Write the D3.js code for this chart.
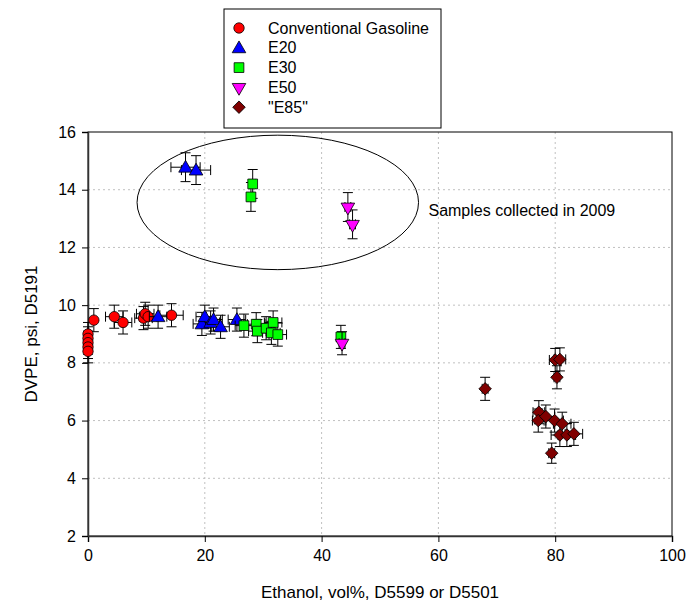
<!DOCTYPE html>
<html>
<head>
<meta charset="utf-8">
<script src="https://cdn.jsdelivr.net/npm/d3@7"></script>
<style>
  body { margin: 0; background: #fff; }
  svg text { font-family: Arial, "Liberation Sans", sans-serif; fill: #000; }
</style>
</head>
<body>
<script>
// data: [ethanol vol%, DVPE psi, x error, y error]
var gasoline = [
  [0, 9.0, 0, 0.4], [0, 8.85, 0, 0.4], [0, 8.7, 0, 0.4], [0, 8.55, 0, 0.4], [0, 8.4, 0, 0.4],
  [1.0, 9.48, 0, 0.4], [4.5, 9.6, 1.5, 0.4], [6.0, 9.4, 1.5, 0.4], [9.5, 9.55, 1.5, 0.4],
  [9.8, 9.7, 1.5, 0.4], [10.3, 9.6, 1.5, 0.4], [14.3, 9.65, 2, 0.4]
];
var e20 = [
  [16.7, 14.78, 2.5, 0.5], [18.5, 14.68, 2.5, 0.5],
  [12.0, 9.6, 1.5, 0.4], [19.5, 9.35, 1.5, 0.4], [20.0, 9.6, 1.5, 0.4], [21.0, 9.4, 1.5, 0.4],
  [21.5, 9.5, 1.5, 0.4], [22.7, 9.25, 1.5, 0.4], [25.5, 9.5, 1.5, 0.4]
];
var e30 = [
  [28.2, 14.2, 0.5, 0.5], [27.9, 13.75, 0.5, 0.5],
  [26.7, 9.29, 1.5, 0.4], [28.8, 9.34, 1.5, 0.4], [29.0, 9.1, 1.5, 0.4], [30.5, 9.2, 1.5, 0.4],
  [31.7, 9.4, 1.5, 0.4], [31.4, 9.04, 1.5, 0.4], [32.5, 8.98, 1.5, 0.4], [43.3, 8.9, 0.5, 0.4]
];
var e50 = [
  [44.5, 13.4, 0.5, 0.5], [45.3, 12.8, 0.5, 0.5], [43.5, 8.68, 0.5, 0.4]
];
var e85 = [
  [68.0, 7.1, 0.5, 0.4], [80.0, 8.1, 1.0, 0.4], [80.8, 8.12, 1.0, 0.4], [80.3, 7.5, 0.5, 0.4],
  [77.2, 6.29, 1.0, 0.4], [77.1, 6.0, 1.0, 0.4], [78.4, 6.14, 1.5, 0.4], [79.9, 6.0, 1.5, 0.4],
  [81.2, 5.89, 1.5, 0.4], [80.8, 5.5, 1.5, 0.4], [82.0, 5.5, 1.5, 0.4], [83.2, 5.54, 1.5, 0.4],
  [79.4, 4.87, 0.5, 0.35]
];
var seriesNames = ["Conventional Gasoline", "E20", "E30", "E50", "\"E85\""];
var seriesColors = ["#ff0000", "#0000ff", "#00ff00", "#ff00ff", "#800000"];
var xTicks = [0, 20, 40, 60, 80, 100];
var yTicks = [2, 4, 6, 8, 10, 12, 14, 16];
var noteText = "Samples collected in 2009";

var width = 690, height = 604;
var margin = {left: 88, right: 18, top: 132, bottom: 68};
var chartWidth = width - margin.left - margin.right;
var chartHeight = height - margin.top - margin.bottom;

var svg = d3.select("body").append("svg")
  .attr("width", width).attr("height", height);

var xScale = d3.scaleLinear().domain([0, 100]).range([0, chartWidth]);
var yScale = d3.scaleLinear().domain([2, 16]).range([chartHeight, 0]);

var chart = svg.append("g").attr("transform", "translate(" + margin.left + "," + margin.top + ")");

// dotted grid
chart.append("g").selectAll("line").data(xTicks.slice(1, -1)).enter().append("line")
  .attr("x1", d => xScale(d)).attr("x2", d => xScale(d))
  .attr("y1", 0).attr("y2", chartHeight)
  .attr("stroke", "#c0c0c0").attr("stroke-dasharray", "2,3");
chart.append("g").selectAll("line").data(yTicks.slice(1, -1)).enter().append("line")
  .attr("y1", d => yScale(d)).attr("y2", d => yScale(d))
  .attr("x1", 0).attr("x2", chartWidth)
  .attr("stroke", "#c0c0c0").attr("stroke-dasharray", "2,3");

// frame
chart.append("rect").attr("width", chartWidth).attr("height", chartHeight)
  .attr("fill", "none").attr("stroke", "#000");

// axes
var xAxis = d3.axisBottom(xScale).tickValues(xTicks).tickSize(6).tickPadding(8);
var yAxis = d3.axisLeft(yScale).tickValues(yTicks).tickSize(6).tickPadding(6);
var gx = chart.append("g").attr("transform", "translate(0," + chartHeight + ")").call(xAxis);
var gy = chart.append("g").call(yAxis);
[gx, gy].forEach(function(g){
  g.select(".domain").attr("stroke", "#333").attr("stroke-width", 1.5);
  g.selectAll(".tick line").attr("stroke", "#000");
  g.selectAll("text").style("font-size", "16px").attr("fill", "#000");
});

// ellipse annotation
var ell = {cx: 32.5, cy: 13.56, rx: 24.1, ry: 2.33};
chart.append("ellipse")
  .attr("cx", xScale(ell.cx)).attr("cy", yScale(ell.cy))
  .attr("rx", xScale(ell.rx) - xScale(0)).attr("ry", yScale(0) - yScale(ell.ry))
  .attr("fill", "none").attr("stroke", "#000");
chart.append("text").attr("x", xScale(58.3)).attr("y", yScale(13.3)).attr("dy", "0.35em")
  .style("font-size", "16px").text(noteText);

// symbols
var shapes = [d3.symbolCircle, d3.symbolTriangle, d3.symbolSquare, d3.symbolTriangle, d3.symbolSquare];
var sizes = [85, 80, 95, 80, 78];
var allSeries = [gasoline, e20, e30, e50, e85];

function symbolPath(i) {
  return d3.symbol().type(shapes[i]).size(sizes[i])();
}
function symbolTransform(i, x, y) {
  if (i == 3) return "translate(" + x + "," + y + ") rotate(180)";
  if (i == 4) return "translate(" + x + "," + y + ") rotate(45)";
  if (i == 1) return "translate(" + x + "," + (y + 1) + ")";
  return "translate(" + x + "," + y + ")";
}

var capW = 5;
allSeries.forEach(function(data, i){
  var g = chart.append("g");
  // error bars
  data.forEach(function(d){
    var x = xScale(d[0]), y = yScale(d[1]);
    var y0 = yScale(d[1] - d[3]), y1 = yScale(d[1] + d[3]);
    g.append("line").attr("x1", x).attr("x2", x).attr("y1", y0).attr("y2", y1).attr("stroke", "#000");
    g.append("line").attr("x1", x - capW).attr("x2", x + capW).attr("y1", y0).attr("y2", y0).attr("stroke", "#000");
    g.append("line").attr("x1", x - capW).attr("x2", x + capW).attr("y1", y1).attr("y2", y1).attr("stroke", "#000");
    if (d[2] > 0) {
      var x0 = xScale(d[0] - d[2]), x1 = xScale(d[0] + d[2]);
      g.append("line").attr("x1", x0).attr("x2", x1).attr("y1", y).attr("y2", y).attr("stroke", "#000");
      g.append("line").attr("x1", x0).attr("x2", x0).attr("y1", y - capW).attr("y2", y + capW).attr("stroke", "#000");
      g.append("line").attr("x1", x1).attr("x2", x1).attr("y1", y - capW).attr("y2", y + capW).attr("stroke", "#000");
    }
  });
  g.selectAll("path.pt").data(data).enter().append("path").attr("class", "pt")
    .attr("d", symbolPath(i))
    .attr("transform", d => symbolTransform(i, xScale(d[0]), yScale(d[1])))
    .attr("fill", seriesColors[i]).attr("stroke", "#000").attr("stroke-width", 0.8);
});

// axis titles
svg.append("text").attr("x", margin.left + chartWidth / 2).attr("y", 598)
  .attr("text-anchor", "middle").style("font-size", "17px").text("Ethanol, vol%, D5599 or D5501");
svg.append("text").attr("transform", "translate(37," + (margin.top + chartHeight / 2) + ") rotate(-90)")
  .attr("text-anchor", "middle").style("font-size", "17px").text("DVPE, psi, D5191");

// legend
var legend = svg.append("g").attr("transform", "translate(224,9)");
legend.append("rect").attr("width", 217).attr("height", 119)
  .attr("fill", "#fff").attr("stroke", "#000");
seriesNames.forEach(function(name, i){
  var ly = 19 + i * 19.8;
  legend.append("path").attr("d", symbolPath(i))
    .attr("transform", symbolTransform(i, 15, ly))
    .attr("fill", seriesColors[i]).attr("stroke", "#000").attr("stroke-width", 0.8);
  legend.append("text").attr("x", 44).attr("y", ly).attr("dy", "0.35em")
    .style("font-size", "16px").text(name);
});
</script>
</body>
</html>
